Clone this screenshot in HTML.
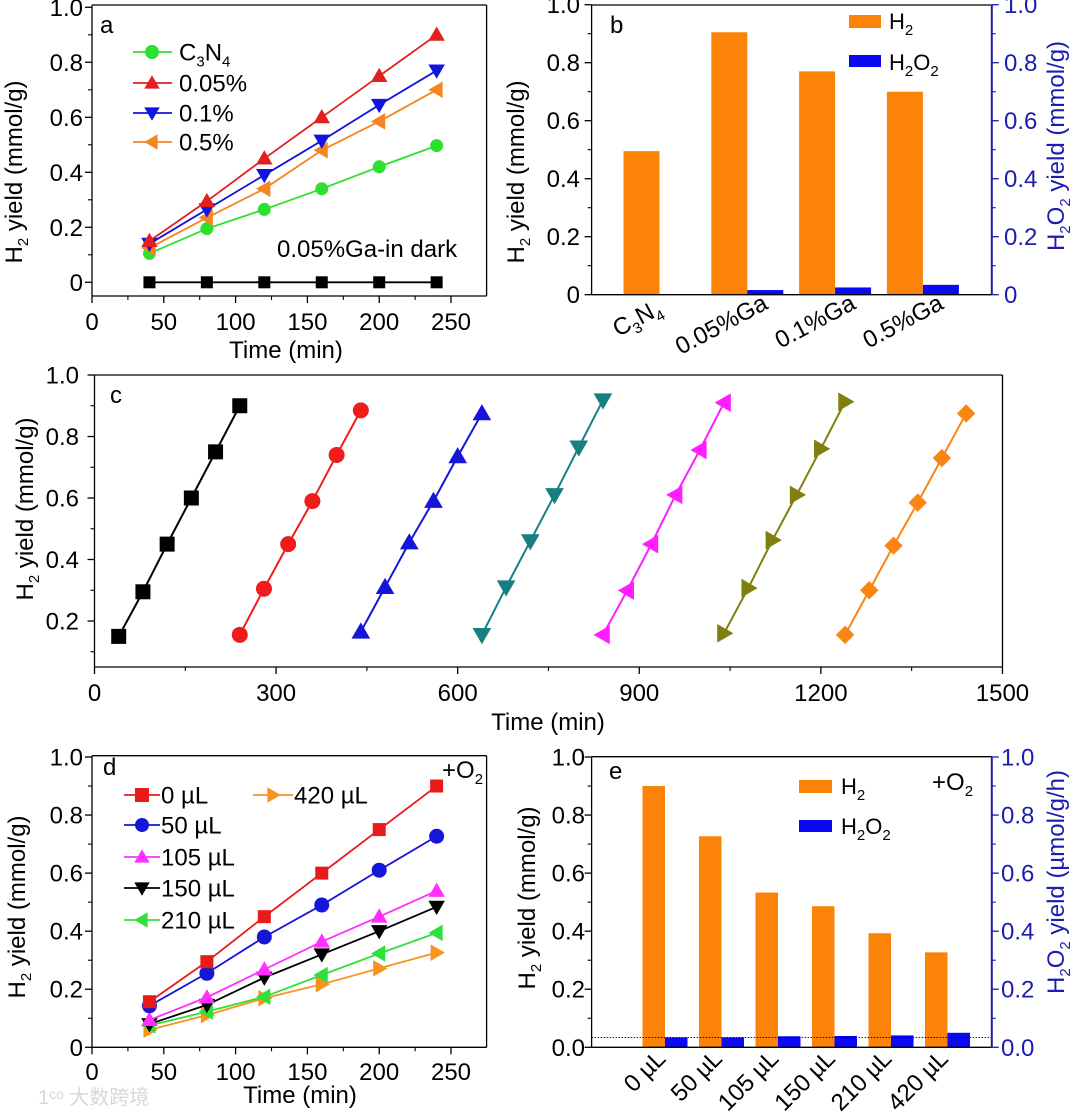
<!DOCTYPE html>
<html><head><meta charset="utf-8"><style>
html,body{margin:0;padding:0;background:#fff;}
svg{display:block;font-family:"Liberation Sans",Arial,sans-serif;}
</style></head><body>
<svg id="fig" width="1080" height="1113" viewBox="0 0 1080 1113" xmlns="http://www.w3.org/2000/svg">
<text x="38" y="1104" font-size="20" fill="#d8d8d8" font-family="'Liberation Sans','Noto Sans CJK SC',sans-serif">1ᶜᵒ 大数跨境</text>
</svg>
<script>
// ---------- data ----------
const aTime=[40,80,120,160,200,240];
const aC3N4=[0.105,0.195,0.265,0.34,0.42,0.497];
const a005=[0.15,0.295,0.45,0.60,0.75,0.90];
const a01=[0.14,0.265,0.39,0.515,0.645,0.77];
const a05=[0.125,0.235,0.34,0.48,0.585,0.70];
const aDark=[0,0,0,0,0,0];
const axTicks=[0,50,100,150,200,250];
const ayTicks=[0,0.2,0.4,0.6,0.8,1.0];
const ayLabels=["0","0.2","0.4","0.6","0.8","1.0"];

const bCats=["C3N4","0.05%Ga","0.1%Ga","0.5%Ga"];
const bH2=[0.495,0.905,0.77,0.70];
const bH2O2=[0,0.016,0.025,0.034];

const cT1=[40,80,120,160,200,240];
const cV1=[0.15,0.295,0.45,0.60,0.75,0.90];
const cT2=[240,280,320,360,400,440];
const cV2=[0.155,0.305,0.45,0.59,0.74,0.885];
const cT3=[440,480,520,560,600,640];
const cV3=[0.165,0.31,0.455,0.59,0.735,0.875];
const cT4=[640,680,720,760,800,840];
const cV4=[0.155,0.31,0.46,0.61,0.765,0.918];
const cT5=[840,880,920,960,1000,1040];
const cV5=[0.155,0.299,0.45,0.61,0.756,0.91];
const cT6=[1040,1080,1120,1160,1200,1240];
const cV6=[0.16,0.307,0.463,0.61,0.76,0.913];
const cT7=[1240,1280,1320,1360,1400,1440];
const cV7=[0.155,0.30,0.445,0.585,0.73,0.875];
const cxTicks=[0,300,600,900,1200,1500];
const cyTicks=[0.2,0.4,0.6,0.8,1.0];
const cyLabels=["0.2","0.4","0.6","0.8","1.0"];

const dTime=[40,80,120,160,200,240];
const d0=[0.157,0.295,0.45,0.60,0.75,0.90];
const d50=[0.143,0.255,0.38,0.49,0.61,0.727];
const d105=[0.094,0.172,0.268,0.364,0.45,0.539];
const d150=[0.08,0.146,0.24,0.32,0.40,0.484];
const d210=[0.075,0.123,0.174,0.249,0.323,0.394];
const d420=[0.06,0.111,0.169,0.217,0.272,0.326];

const eCats=["0 µL","50 µL","105 µL","150 µL","210 µL","420 µL"];
const eH2=[0.90,0.727,0.533,0.486,0.393,0.327];
const eH2O2=[0.034,0.034,0.038,0.039,0.041,0.050];
const eRef=0.034;
const eyLabels=["0.0","0.2","0.4","0.6","0.8","1.0"];

// ---------- helpers ----------
const svg=document.getElementById('fig');
const NS='http://www.w3.org/2000/svg';
function mk(tag,attrs,name,parent){
  const el=document.createElementNS(NS,tag);
  for(const k in attrs) el.setAttribute(k,attrs[k]);
  
  
  (parent||svg).appendChild(el);
  return el;
}
function txt(x,y,s,opt,name){
  const o=Object.assign({x:x,y:y,'font-size':24,fill:'#000'},opt||{});
  const t=mk('text',o,name);
  t.textContent=s;
  return t;
}
function rich(x,y,parts,opt,name){
  const o=Object.assign({x:x,y:y,'font-size':24,fill:'#000'},opt||{});
  const t=mk('text',o,name);
  let sub=false;
  parts.forEach(p=>{
    const ts=mk('tspan',{},'text-part',t);
    if(p[1]&&!sub){ts.setAttribute('dy','6');ts.setAttribute('font-size','15');sub=true;}
    else if(!p[1]&&sub){ts.setAttribute('dy','-6');sub=false;}
    else if(p[1]){ts.setAttribute('font-size','15');}
    ts.textContent=p[0];
  });
  return t;
}
function marker(shape,x,y,s,color,name){
  const h=s/2;
  if(shape==='circle') return mk('circle',{cx:x,cy:y,r:h,fill:color},name);
  if(shape==='square') return mk('rect',{x:x-h,y:y-h,width:s,height:s,fill:color},name);
  let pts;
  if(shape==='up') pts=[[x,y-h*1.1],[x+h*1.1,y+h*0.8],[x-h*1.1,y+h*0.8]];
  if(shape==='down') pts=[[x,y+h*1.1],[x+h*1.1,y-h*0.8],[x-h*1.1,y-h*0.8]];
  if(shape==='left') pts=[[x-h*1.1,y],[x+h*0.8,y-h*1.1],[x+h*0.8,y+h*1.1]];
  if(shape==='right') pts=[[x+h*1.1,y],[x-h*0.8,y-h*1.1],[x-h*0.8,y+h*1.1]];
  if(shape==='diamond') pts=[[x,y-h*1.15],[x+h*1.15,y],[x,y+h*1.15],[x-h*1.15,y]];
  return mk('polygon',{points:pts.map(p=>p.join(',')).join(' '),fill:color},name);
}
function series(xs,ys,tArr,vArr,shape,size,color,name,lw){
  const pts=tArr.map((t,i)=>xs(t)+','+ys(vArr[i])).join(' ');
  mk('polyline',{points:pts,fill:'none',stroke:color,'stroke-width':lw||1.8},name+'-line');
  tArr.forEach((t,i)=>marker(shape,xs(t),ys(vArr[i]),size,color,name+'-point'));
}
function frame(x0,x1,y0,y1,name,rightColor){
  mk('line',{x1:x0,y1:y0,x2:x1,y2:y0,stroke:'#000','stroke-width':1.3},name+'-top-spine');
  mk('line',{x1:x0,y1:y1,x2:x1,y2:y1,stroke:'#000','stroke-width':1.3},name+'-x-axis');
  mk('line',{x1:x0,y1:y0,x2:x0,y2:y1,stroke:'#000','stroke-width':1.3},name+'-y-axis');
  mk('line',{x1:x1,y1:y0,x2:x1,y2:y1,stroke:rightColor||'#000','stroke-width':rightColor?2:1.3},name+'-right-spine');
}
function yAxis(ys,x,ticks,labels,minors,labelX,name,color,side){
  const c=color||'#000', dir=side==='right'?1:-1;
  ticks.forEach((v,i)=>{
    mk('line',{x1:x,y1:ys(v),x2:x+dir*7,y2:ys(v),stroke:c,'stroke-width':1.3},name+'-tick');
    txt(labelX,ys(v)+8.5,labels[i],{'text-anchor':side==='right'?'start':'end',fill:c},name+'-tick-label');
  });
  minors.forEach(v=>mk('line',{x1:x,y1:ys(v),x2:x+dir*4,y2:ys(v),stroke:c,'stroke-width':1.1},name+'-minor-tick'));
}
function xAxis(xs,y,ticks,minors,labelY,name){
  ticks.forEach(t=>{
    mk('line',{x1:xs(t),y1:y,x2:xs(t),y2:y+7,stroke:'#000','stroke-width':1.3},name+'-tick');
    txt(xs(t),labelY,String(t),{'text-anchor':'middle'},name+'-tick-label');
  });
  minors.forEach(t=>mk('line',{x1:xs(t),y1:y,x2:xs(t),y2:y+4,stroke:'#000','stroke-width':1.1},name+'-minor-tick'));
}
function yTitle(cx,cy,parts,name,color){
  rich(0,0,parts,{'text-anchor':'middle',transform:'translate('+(cx+8)+','+cy+') rotate(-90)',fill:color||'#000'},name);
}
const H2Y=[["H",0],["2",1],[" yield (mmol/g)",0]];

// ---------- panel a ----------
{
const xs=t=>92+t*(451-92)/250, ys=v=>282.3-275*v;
frame(92,486.6,5,296,'panel-a');
yAxis(ys,92,ayTicks,ayLabels,[0.1,0.3,0.5,0.7,0.9],83,'a-y');
xAxis(xs,296,axTicks,[25,75,125,175,225],330,'a-x');
series(xs,ys,aTime,aDark,'square',12,'#000','a-dark-series');
series(xs,ys,aTime,aC3N4,'circle',13,'#2ee02e','a-c3n4-series');
series(xs,ys,aTime,a05,'left',15,'#f5861f','a-05-series');
series(xs,ys,aTime,a01,'down',15,'#1414e0','a-01-series');
series(xs,ys,aTime,a005,'up',15,'#e41f1f','a-005-series');
txt(100,33,'a',{},'panel-a-label');
const leg=[['circle','#2ee02e',[["C",0],["3",1],["N",0],["4",1]]],['up','#e41f1f',[["0.05%",0]]],['down','#1414e0',[["0.1%",0]]],['left','#f5861f',[["0.5%",0]]]];
const ly=[52,83,113,142];
leg.forEach((l,i)=>{
  mk('line',{x1:133,y1:ly[i],x2:172,y2:ly[i],stroke:l[1],'stroke-width':1.8},'a-legend-line');
  marker(l[0],152,ly[i],14,l[1],'a-legend-marker');
  rich(179,ly[i]+8.5,l[2],{},'a-legend-label');
});
txt(277,257,'0.05%Ga-in dark',{},'a-dark-annotation');
txt(286,358,'Time (min)',{'text-anchor':'middle'},'a-x-title');
yTitle(14,172,H2Y,'a-y-title');
}

// ---------- panel b ----------
{
const ys=v=>294.7-290*v, cx=i=>659.5+87.8*i;
bCats.forEach((c,i)=>{
  mk('rect',{x:cx(i)-36,y:ys(bH2[i]),width:36,height:ys(0)-ys(bH2[i]),fill:'#fb8307'},'b-h2-bar');
  if(bH2O2[i]>0) mk('rect',{x:cx(i),y:ys(bH2O2[i]),width:36,height:ys(0)-ys(bH2O2[i]),fill:'#0a0af2'},'b-h2o2-bar');
});
frame(591.6,991.8,5,294.7,'panel-b','#1c1ca8');
yAxis(ys,591.6,ayTicks,ayLabels,[0.1,0.3,0.5,0.7,0.9],580,'b-y');
yAxis(ys,991.8,ayTicks,ayLabels,[0.1,0.3,0.5,0.7,0.9],1004,'b-y-right','#1c1cb0','right');
bCats.forEach((c,i)=>{
  const px=cx(i)+(i===0?4:22), py=(i===0?313:308);
  const parts=c==='C3N4'?[["C",0],["3",1],["N",0],["4",1]]:[[c,0]];
  rich(0,0,parts,{'text-anchor':'end',transform:'translate('+px+','+py+') rotate(-28)'},'b-category-label');
});
txt(610,33,'b',{},'panel-b-label');
mk('rect',{x:849,y:15,width:32,height:13,fill:'#fb8307'},'b-legend-h2-swatch');
mk('rect',{x:849,y:55,width:32,height:12,fill:'#0a0af2'},'b-legend-h2o2-swatch');
rich(889,29,[["H",0],["2",1]],{'font-size':22},'b-legend-h2-label');
rich(889,70,[["H",0],["2",1],["O",0],["2",1]],{'font-size':22},'b-legend-h2o2-label');
yTitle(516,172,H2Y,'b-y-title');
yTitle(1056,146,[["H",0],["2",1],["O",0],["2",1],[" yield (mmol/g)",0]],'b-y-right-title','#1c1cb0');
}

// ---------- panel c ----------
{
const xs=t=>94.5+t*0.6053, ys=v=>375+(1-v)*307.5;
frame(94.5,1002.5,375,667,'panel-c');
yAxis(ys,94.5,cyTicks,cyLabels,[0.1,0.3,0.5,0.7,0.9],79,'c-y');
xAxis(xs,667,cxTicks,[150,450,750,1050,1350],701,'c-x');
series(xs,ys,cT1,cV1,'square',15,'#000','c-cycle1',2);
series(xs,ys,cT2,cV2,'circle',16,'#f01c1c','c-cycle2',2);
series(xs,ys,cT3,cV3,'up',17,'#1616d8','c-cycle3',2);
series(xs,ys,cT4,cV4,'down',17,'#168080','c-cycle4',2);
series(xs,ys,cT5,cV5,'left',17,'#ff1cff','c-cycle5',2);
series(xs,ys,cT6,cV6,'right',17,'#7f7f0c','c-cycle6',2);
series(xs,ys,cT7,cV7,'diamond',16,'#f98612','c-cycle7',2);
txt(110,403,'c',{},'panel-c-label');
txt(548,730,'Time (min)',{'text-anchor':'middle'},'c-x-title');
yTitle(25,509,H2Y,'c-y-title');
}

// ---------- panel d ----------
{
const xs=t=>92+t*(451-92)/250, ys=v=>1047.3-290.3*v;
frame(92,486.6,755.7,1047.3,'panel-d');
yAxis(ys,92,ayTicks,ayLabels,[0.1,0.3,0.5,0.7,0.9],83,'d-y');
xAxis(xs,1047.3,axTicks,[25,75,125,175,225],1080,'d-x');
series(xs,ys,dTime,d420,'right',15,'#f7931e','d-420-series');
series(xs,ys,dTime,d210,'left',15,'#2ee03a','d-210-series');
series(xs,ys,dTime,d150,'down',15,'#000','d-150-series');
series(xs,ys,dTime,d105,'up',15,'#ff30ff','d-105-series');
series(xs,ys,dTime,d50,'circle',15,'#1616d8','d-50-series');
series(xs,ys,dTime,d0,'square',13,'#e81a1a','d-0-series');
txt(103,775,'d',{},'panel-d-label');
rich(442,778,[["+O",0],["2",1]],{},'d-o2-annotation');
const leg=[['square','#e81a1a','0 µL',124,160,795],['circle','#1616d8','50 µL',124,160,825],['up','#ff30ff','105 µL',124,160,857],['down','#000','150 µL',124,160,888],['left','#2ee03a','210 µL',124,160,920],['right','#f7931e','420 µL',253,293,795]];
leg.forEach(l=>{
  mk('line',{x1:l[3],y1:l[5],x2:l[4],y2:l[5],stroke:l[1],'stroke-width':1.8},'d-legend-line');
  marker(l[0],(l[3]+l[4])/2,l[5],14,l[1],'d-legend-marker');
  txt(l[4]+1,l[5]+8.5,l[2],{},'d-legend-label');
});
txt(300,1103,'Time (min)',{'text-anchor':'middle'},'d-x-title');
yTitle(17,907,H2Y,'d-y-title');
}

// ---------- panel e ----------
{
const ys=v=>1047.3-290.3*v, cx=i=>665+56.5*i;
eCats.forEach((c,i)=>{
  mk('rect',{x:cx(i)-22.5,y:ys(eH2[i]),width:22.5,height:ys(0)-ys(eH2[i]),fill:'#fb8307'},'e-h2-bar');
  mk('rect',{x:cx(i),y:ys(eH2O2[i]),width:22.5,height:ys(0)-ys(eH2O2[i]),fill:'#0a0af2'},'e-h2o2-bar');
});
mk('line',{x1:591.6,y1:ys(eRef),x2:991.8,y2:ys(eRef),stroke:'#000','stroke-width':0.8,'stroke-dasharray':'1.5,1.5'},'e-reference-line');
frame(591.6,991.8,756.7,1047.3,'panel-e','#1c1ca8');
yAxis(ys,591.6,ayTicks,eyLabels,[0.1,0.3,0.5,0.7,0.9],585,'e-y');
yAxis(ys,991.8,ayTicks,eyLabels,[0.1,0.3,0.5,0.7,0.9],1001,'e-y-right','#1c1cb0','right');
eCats.forEach((c,i)=>{
  txt(0,0,c,{'text-anchor':'end',transform:'translate('+(cx(i)+2)+',1060) rotate(-45)'},'e-category-label');
});
txt(609,779,'e',{},'panel-e-label');
rich(932,790,[["+O",0],["2",1]],{},'e-o2-annotation');
mk('rect',{x:799,y:780,width:33,height:13,fill:'#fb8307'},'e-legend-h2-swatch');
mk('rect',{x:799,y:820,width:33,height:12,fill:'#0a0af2'},'e-legend-h2o2-swatch');
rich(841,794,[["H",0],["2",1]],{'font-size':22},'e-legend-h2-label');
rich(841,834,[["H",0],["2",1],["O",0],["2",1]],{'font-size':22},'e-legend-h2o2-label');
yTitle(527,898,H2Y,'e-y-title');
yTitle(1056,882,[["H",0],["2",1],["O",0],["2",1],[" yield (µmol/g/h)",0]],'e-y-right-title','#1c1cb0');
}
</script>
</body></html>
